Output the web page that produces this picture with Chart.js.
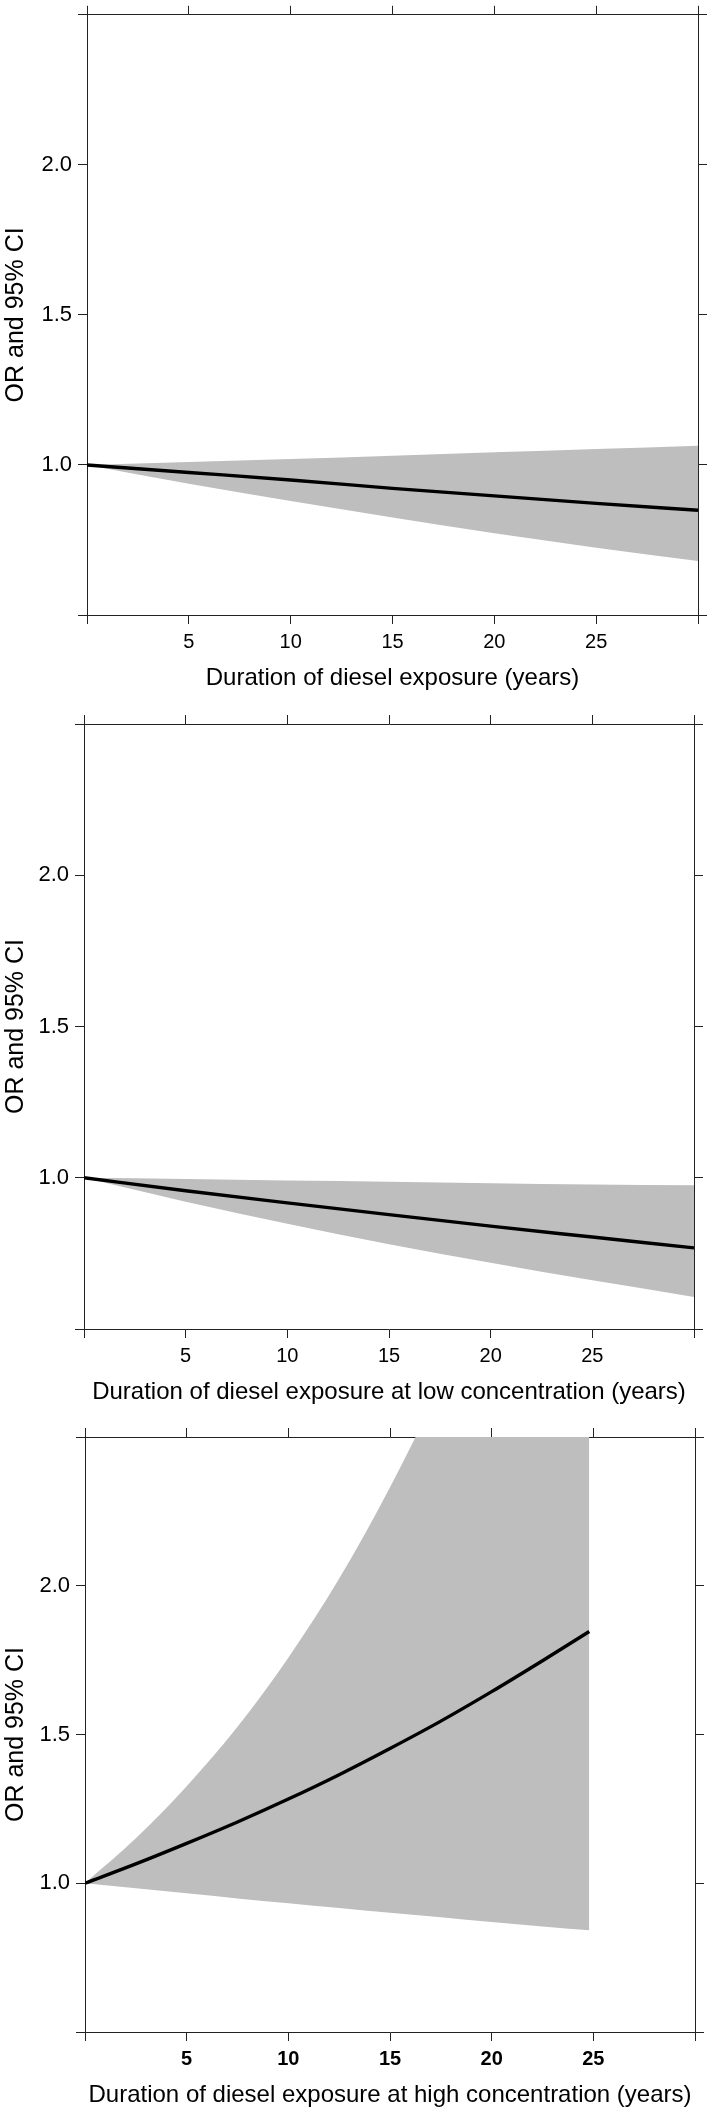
<!DOCTYPE html>
<html>
<head>
<meta charset="utf-8">
<title>OR and 95% CI by duration of diesel exposure</title>
<script src="https://cdn.jsdelivr.net/npm/chart.js@4.4.1/dist/chart.umd.min.js"></script>
<style>
  html, body { margin: 0; padding: 0; background: #fff; }
  canvas { display: block; position: absolute; left: 0; }
</style>
</head>
<body>
<canvas id="chart1" width="709" height="705" style="top:0px"></canvas>
<canvas id="chart2" width="709" height="705" style="top:705px"></canvas>
<canvas id="chart3" width="709" height="706" style="top:1410px"></canvas>

<script>
/* =========================
   DATA
========================= */

const xTicks = [0, 5, 10, 15, 20, 25, 30];
const xTickLabels = ["", "5", "10", "15", "20", "25", ""];
const yTicks = [0.5, 1.0, 1.5, 2.0, 2.5];
const yTickLabels = ["", "1.0", "1.5", "2.0", ""];

// duration of diesel exposure (all)
const years1 = [0, 5, 10, 15, 20, 25, 30];
const or1 = [1.000, 0.975, 0.950, 0.922, 0.897, 0.872, 0.849];
const lo1 = [1.000, 0.937, 0.880, 0.825, 0.772, 0.724, 0.680];
const hi1 = [1.000, 1.010, 1.020, 1.031, 1.042, 1.053, 1.064];

// low concentration
const years2 = [0, 5, 10, 15, 20, 25, 30];
const or2 = [1.000, 0.957, 0.917, 0.878, 0.840, 0.804, 0.768];
const lo2 = [1.000, 0.921, 0.848, 0.780, 0.719, 0.661, 0.606];
const hi2 = [1.000, 0.996, 0.991, 0.987, 0.982, 0.978, 0.975];

// high concentration (upper limit runs off the top of the plot after ~16 years;
// values past 2.5 are estimated and get clipped by the chart area)
const years3 = [0, 2.5, 5, 7.5, 10, 12.5, 15, 17.5, 20, 22.5, 24.8];
const or3 = [1.000, 1.065, 1.134, 1.206, 1.283, 1.365, 1.453, 1.545, 1.644, 1.748, 1.846];
const lo3 = [1.000, 0.983, 0.966, 0.949, 0.933, 0.917, 0.901, 0.886, 0.870, 0.855, 0.842];
const hi3 = [1.000, 1.151, 1.326, 1.526, 1.758, 2.024, 2.331, 2.680, 3.090, 3.560, 4.050];

const titles = [
  "Duration of diesel exposure (years)",
  "Duration of diesel exposure at low concentration (years)",
  "Duration of diesel exposure at high concentration (years)"
];

/* =========================
   STYLE
========================= */

const FONT = "'Liberation Sans', Arial, Helvetica, sans-serif";
const AXIS = "#222";
const BAND = "#bebebe";
const TICK = 9;

const pts = (xs, ys) => xs.map((x, i) => ({ x: x, y: ys[i] }));

/* =========================
   PANEL
========================= */

function makePanel(id, years, or, lo, hi, title, box, boldTicks) {
  const canvas = document.getElementById(id);
  const W = canvas.width;
  const H = canvas.height;

  const grid = { drawOnChartArea: false, drawTicks: true, tickLength: TICK, color: AXIS, lineWidth: 1 };
  const border = { display: true, color: AXIS, width: 1 };
  const setX = s => { s.ticks = xTicks.map(v => ({ value: v })); };
  const setY = s => { s.ticks = yTicks.map(v => ({ value: v })); };

  return new Chart(canvas, {
    type: "line",
    data: {
      datasets: [
        {
          data: pts(years, or),
          borderColor: "#000",
          borderWidth: 3.4,
          pointRadius: 0,
          fill: false,
          cubicInterpolationMode: "monotone"
        },
        {
          data: pts(years, lo),
          borderWidth: 0,
          borderColor: "rgba(0,0,0,0)",
          pointRadius: 0,
          fill: false,
          cubicInterpolationMode: "monotone"
        },
        {
          data: pts(years, hi),
          borderWidth: 0,
          borderColor: "rgba(0,0,0,0)",
          backgroundColor: BAND,
          pointRadius: 0,
          fill: 1,
          cubicInterpolationMode: "monotone"
        }
      ]
    },
    options: {
      responsive: false,
      animation: false,
      events: [],
      layout: { padding: 0 },
      plugins: { legend: { display: false }, tooltip: { enabled: false } },
      scales: {
        x: {
          type: "linear", position: "bottom", min: 0, max: 30,
          afterBuildTicks: setX,
          afterFit: s => { s.height = H - box.bottom; },
          grid: grid, border: border,
          ticks: {
            autoSkip: false, maxRotation: 0, padding: 6, color: "#000",
            font: { family: FONT, size: 20, weight: boldTicks ? "bold" : "normal", lineHeight: 1.2 },
            callback: (v, i) => xTickLabels[i]
          },
          title: {
            display: true, text: title, color: "#000",
            font: { family: FONT, size: 24, lineHeight: 1.2 },
            padding: { top: 0, bottom: H - (box.bottom + 63) - 14.4 }
          }
        },
        x2: {
          type: "linear", position: "top", min: 0, max: 30,
          afterBuildTicks: setX,
          afterFit: s => { s.height = box.top; },
          grid: grid, border: border,
          ticks: { display: false }
        },
        y: {
          type: "linear", position: "left", min: 0.5, max: 2.5,
          afterBuildTicks: setY,
          afterFit: s => { s.width = box.left; },
          grid: grid, border: border,
          ticks: {
            padding: 6, color: "#000",
            font: { family: FONT, size: 22, lineHeight: 0.8 },
            callback: (v, i) => yTickLabels[i]
          },
          title: {
            display: true, text: "OR and 95% CI", color: "#000",
            font: { family: FONT, size: 25, lineHeight: 1.2 },
            padding: { top: 1, bottom: 0 }
          }
        },
        y2: {
          type: "linear", position: "right", min: 0.5, max: 2.5,
          afterBuildTicks: setY,
          afterFit: s => { s.width = W - box.right; },
          grid: grid, border: border,
          ticks: { display: false }
        }
      }
    }
  });
}

/* =========================
   RENDER
========================= */

makePanel("chart1", years1, or1, lo1, hi1, titles[0],
  { left: 87, right: 698, top: 9, bottom: 615 }, false);
makePanel("chart2", years2, or2, lo2, hi2, titles[1],
  { left: 84, right: 694, top: 19, bottom: 624 }, false);
makePanel("chart3", years3, or3, lo3, hi3, titles[2],
  { left: 85, right: 695, top: 27, bottom: 622 }, true);
</script>
</body>
</html>
